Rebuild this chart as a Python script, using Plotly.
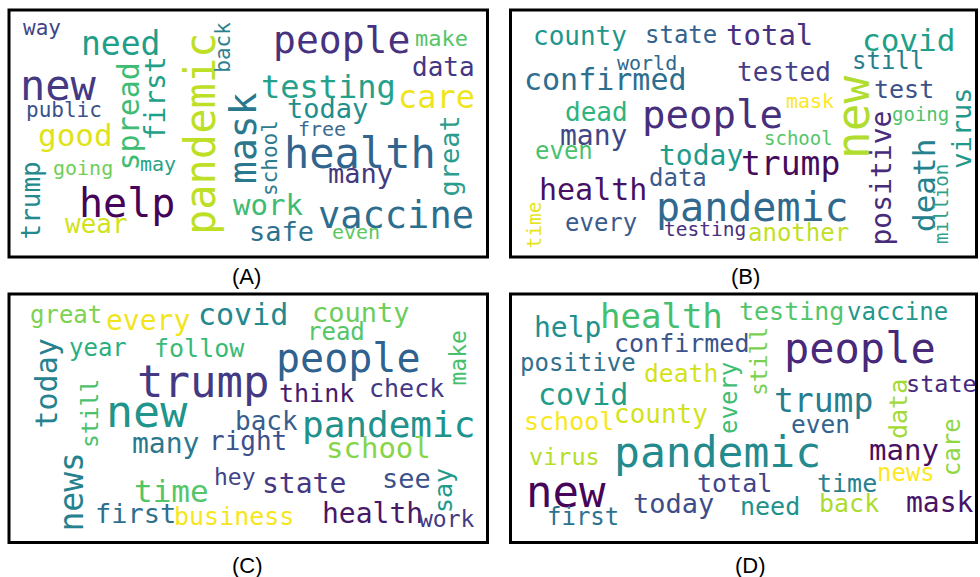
import plotly.graph_objects as go

# ---------------- Panel A ----------------
A_words = ["way", "need", "new", "public", "good", "going", "help", "wear", "may", "work", "safe",
           "people", "make", "data", "testing", "care", "today", "free", "health", "many", "vaccine", "even",
           "trump", "spread", "first", "pandemic", "back", "mask", "school", "great"]
A_x = [41.5, 120, 58.5, 63.5, 75.5, 83, 126.7, 96, 157.5, 267.5, 281.5,
       341, 441, 443.5, 328.5, 436.5, 327.5, 321.5, 359.5, 360.5, 396, 356,
       30, 128, 154.5, 200, 222.7, 243, 269.5, 449]
A_y = [27.7, 43.6, 85.5, 109.7, 135.3, 168.1, 202.5, 224, 164.1, 204.7, 231.7,
       39.9, 38.7, 67, 86.9, 96.9, 108.7, 129.1, 153.5, 173.7, 215.2, 231.5,
       200.5, 116.5, 99, 134, 47, 138, 158.5, 156.5]
A_size = [21, 33, 42, 21, 31, 20, 40, 26, 20, 29, 27,
          38, 22, 26, 32, 32, 27, 20, 42, 27, 37, 20,
          26, 30, 28, 42, 21, 38, 21, 27]
A_color = ["#414487", "#1f9e89", "#443983", "#3b528b", "#dfe318", "#6ece58", "#450457", "#d2e21b", "#26a287",
           "#3dbc74", "#2c728e",
           "#46327e", "#54c568", "#453781", "#25a18a", "#f0e51d", "#218e8d", "#3d6a90", "#32658e", "#45387f",
           "#2c6e8e", "#5cc863",
           "#23898e", "#3fbc73", "#1fa088", "#bddf26", "#2e7f8e", "#2a788e", "#2f7a8e", "#2a9d8c"]
A_vert = [0] * 22 + [1] * 8

# ---------------- Panel B ----------------
B_words = ["county", "state", "total", "world", "confirmed", "tested", "covid", "still", "test", "mask", "going",
           "people", "dead", "many", "even", "today", "school", "trump", "health", "data", "pandemic", "every",
           "testing", "another",
           "time", "new", "positive", "death", "million", "virus"]
B_x = [579.5, 681, 769, 647, 605.5, 784, 908, 887.5, 903.5, 810, 920.5,
       712, 596, 593, 563.5, 700.5, 798.5, 790.5, 593, 677.5, 752.5, 601,
       705, 798.5,
       534, 853, 881, 924, 941, 960.7]
B_y = [35.7, 34.7, 34.7, 62.8, 79.3, 72, 40.3, 61.4, 89.4, 101.1, 114.4,
       114.5, 112, 135, 151.4, 155, 138.1, 163.3, 189.3, 177.7, 207.2, 222.7,
       229.3, 232.7,
       225.5, 118, 178.5, 186, 204, 128]
B_size = [26, 24, 29, 20, 30, 26, 31, 24, 25, 20, 19,
          39, 26, 28, 24, 28, 19, 33, 30, 24, 40, 24,
          19.5, 24,
          19.5, 46, 28, 31, 19, 27]
B_color = ["#1f968b", "#34618d", "#46307e", "#31688e", "#2e6e8e", "#433e85", "#1fa187", "#277f8e", "#3b528b",
           "#fde725", "#4ec36b",
           "#472f7d", "#2fb47c", "#3f4788", "#4ac16d", "#1e9b8a", "#55c667", "#450b5a", "#471063", "#3c5a8c",
           "#30688e", "#3b5b8c",
           "#4a3080", "#c2df23",
           "#e6e419", "#b0dd2f", "#472c7a", "#26818e", "#2fa08b", "#1f998a"]
B_vert = [0] * 24 + [1] * 6

# ---------------- Panel C ----------------
C_words = ["great", "every", "covid", "county", "read", "year", "follow", "trump", "people", "new", "think",
           "check", "back", "pandemic", "many", "right", "school", "time", "hey", "state", "see", "first",
           "business", "health", "work",
           "today", "still", "make", "news", "say"]
C_x = [65.5, 148, 243, 360.5, 335.5, 98, 199, 203, 348.5, 146.5, 316,
       406.5, 266.5, 388.5, 165.5, 247.5, 378.5, 171.5, 235, 304, 406.5, 135,
       234, 372.5, 446.5,
       46, 90, 457, 71, 443]
C_y = [314.7, 320.3, 314.6, 312.4, 331.7, 348.4, 348, 381.5, 357.9, 411.1, 393,
       388, 421, 424.2, 443.3, 441, 448, 491, 477, 483.3, 478.7, 513.7,
       516.4, 513.3, 519,
       383.5, 414, 358.5, 492.5, 491]
C_size = [24, 28, 30, 27, 24, 24, 25, 44, 40, 45, 25,
          25, 26, 36, 28, 26, 29, 31, 23, 28, 27, 27,
          25, 28, 23,
          30, 23, 23, 33, 25]
C_color = ["#7cd250", "#f1e51d", "#23898e", "#6ccd5a", "#52c569", "#29af7f", "#3aba76", "#443a83", "#2f628e",
           "#1f958b", "#481a6c",
           "#443983", "#3a5e8c", "#20928c", "#2a788e", "#3c508b", "#86d549", "#54c568", "#414487", "#453882",
           "#3b528b", "#2e6f8e",
           "#f6e620", "#481768", "#443b84",
           "#26828e", "#4ac16d", "#48c16e", "#26818e", "#239a8a"]
C_vert = [0] * 25 + [1] * 5

# ---------------- Panel D ----------------
D_words = ["help", "health", "testing", "vaccine", "confirmed", "positive", "death", "people", "covid", "school",
           "county", "state", "trump", "even", "pandemic", "virus", "many", "news", "new", "total", "time",
           "today", "need", "back", "mask", "first",
           "every", "still", "data", "care"]
D_x = [567.5, 661.5, 791.5, 897, 681.5, 578, 680.5, 860, 583, 569,
       661, 941, 823.5, 820, 717, 564, 903.5, 905.5, 566, 734, 846.5,
       673, 770, 849, 939.5, 583,
       729, 759, 898, 951.7]
D_y = [327, 316.2, 311.4, 311.7, 343, 363.4, 373.2, 348.5, 394.6, 421.4,
       414, 383.6, 400.3, 424.5, 451.8, 456.9, 450, 473.4, 491.5, 483, 483,
       503.7, 506.4, 503, 502, 516.7,
       398, 362, 409, 447.5]
D_size = [28, 34, 25, 24, 25, 24, 24.7, 42, 30, 25,
          26, 23.5, 33, 24.5, 43, 23.5, 29, 24, 44, 25, 25,
          27, 25, 25, 28, 24,
          24, 23, 25, 24]
D_color = ["#218f8d", "#44bf70", "#52c569", "#1f988b", "#3a548c", "#30708e", "#d5e21a", "#482878", "#1e9d89",
           "#f8e621",
           "#d2e21b", "#48287a", "#287d8e", "#33638d", "#238a8d", "#b5de2b", "#470e61", "#fde725", "#450559",
           "#414487", "#27808e",
           "#3d4d8a", "#21918c", "#addc30", "#481467", "#2c728e",
           "#40bd72", "#7ad151", "#a2da37", "#8fd744"]
D_vert = [0] * 26 + [1] * 4

# Panel frames and captions
panel_labels = ["(A)", "(B)", "(C)", "(D)"]
panel_x0 = [9, 510.5, 9, 510.5]
panel_x1 = [487.5, 976.5, 487.5, 976.5]
panel_y0 = [10, 10, 294, 294]
panel_y1 = [257, 257, 542.5, 542.5]
label_x = [246, 745, 247.5, 750]
label_y = [276, 276, 565, 565]

FONT = "DejaVu Sans Mono"
W, H = 980, 577

fig = go.Figure()
fig.add_trace(go.Scatter(x=[0, W], y=[0, H], mode="markers",
                         marker=dict(opacity=0), hoverinfo="skip", showlegend=False))

annotations = []
for words, xs, ys, sizes, colors, verts in [
    (A_words, A_x, A_y, A_size, A_color, A_vert),
    (B_words, B_x, B_y, B_size, B_color, B_vert),
    (C_words, C_x, C_y, C_size, C_color, C_vert),
    (D_words, D_x, D_y, D_size, D_color, D_vert),
]:
    for w, x, y, s, c, v in zip(words, xs, ys, sizes, colors, verts):
        annotations.append(dict(
            text=w, x=x, y=y, xref="x", yref="y", showarrow=False,
            xanchor="center", yanchor="middle", textangle=-90 if v else 0,
            font=dict(family=FONT, size=s, color=c), borderpad=0,
        ))

for lab, lx, ly in zip(panel_labels, label_x, label_y):
    annotations.append(dict(
        text=lab, x=lx, y=ly, xref="x", yref="y", showarrow=False,
        xanchor="center", yanchor="middle",
        font=dict(family="Liberation Sans, Arial", size=22, color="black"),
    ))

shapes = []
for x0, x1, y0, y1 in zip(panel_x0, panel_x1, panel_y0, panel_y1):
    shapes.append(dict(type="rect", xref="x", yref="y", x0=x0, x1=x1, y0=y0, y1=y1,
                       line=dict(color="black", width=3), fillcolor="rgba(0,0,0,0)", layer="above"))

fig.update_layout(
    width=W, height=H,
    margin=dict(l=0, r=0, t=0, b=0),
    paper_bgcolor="white", plot_bgcolor="white",
    xaxis=dict(range=[0, W], visible=False, fixedrange=True),
    yaxis=dict(range=[H, 0], visible=False, fixedrange=True),
    annotations=annotations, shapes=shapes,
    showlegend=False,
)

fig.write_html(
    "out.html",
    config={"displayModeBar": False},
    post_script="document.body.style.margin='0px';document.body.style.overflow='hidden';",
)
